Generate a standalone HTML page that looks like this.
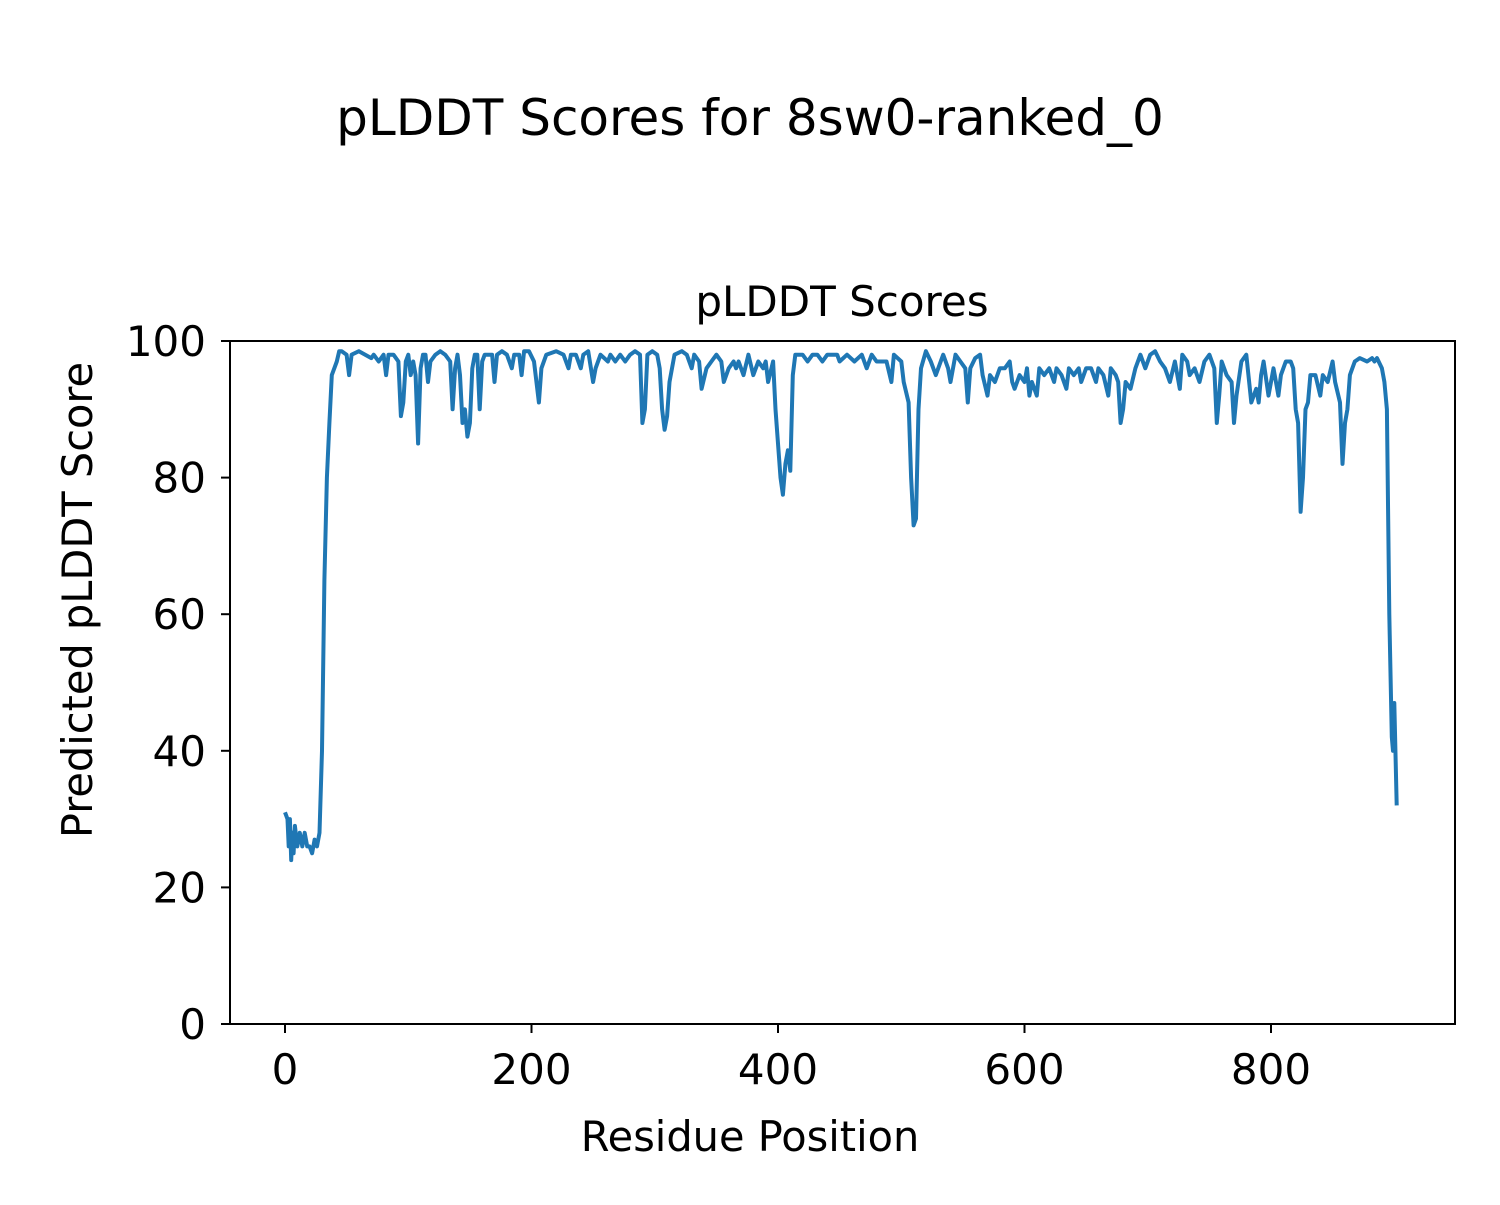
<!DOCTYPE html>
<html><head><meta charset="utf-8"><style>
html,body{margin:0;padding:0;background:#fff;}
svg text{font-family:"DejaVu Sans","Liberation Sans",sans-serif;fill:#000;}
</style></head><body>
<svg id="s" width="1500" height="1200" xmlns="http://www.w3.org/2000/svg">
<rect width="1500" height="1200" fill="#fff"/>
<text x="750" y="135" font-size="50" text-anchor="middle">pLDDT Scores for 8sw0-ranked_0</text>
<text x="842" y="316" font-size="42" text-anchor="middle">pLDDT Scores</text>
<polyline id="ln" fill="none" stroke="#1f77b4" stroke-width="4" stroke-linejoin="round" points=""/>
<rect x="230" y="341" width="1225" height="683" fill="none" stroke="#000" stroke-width="2"/>
<g id="ticks" stroke="#000" stroke-width="2"></g>
<g id="labels" font-size="42"></g>
<text x="750" y="1151" font-size="41.5" text-anchor="middle">Residue Position</text>
<text transform="translate(92,600) rotate(-90)" font-size="41.5" text-anchor="middle">Predicted pLDDT Score</text>
</svg>
<script>
var d=[0,31,2,30,3,26,4,30,5,24,6,28,7,25,8,29,10,26,12,28,14,26,16,28,18,26,20,26,22,25,24,27,26,26,28,28,30,40,32,65,34,80,36,88,38,95,40,96,42,97,44,98.5,46,98.5,50,98,52,95,54,98,60,98.5,70,97.5,72,98,76,97,80,98,82,95,84,98,88,98,92,97,94,89,96,91,98,97,100,98,102,95,104,97,106,95,108,85,110,96,112,98,114,98,116,94,118,97,122,98,126,98.5,130,98,134,97,136,90,138,96,140,98,142,95,144,88,146,90,148,86,150,88,152,96,154,98,156,98,158,90,160,97,162,98,168,98,170,94,172,98,176,98.5,180,98,184,96,186,98,190,98,192,95,194,98.5,198,98.5,202,97,206,91,208,96,212,98,220,98.5,226,98,230,96,232,98,236,98,240,96,242,98,246,98.5,250,94,252,96,256,98,262,97,264,98,268,97,272,98,276,97,280,98,284,98.5,288,98,290,88,292,90,294,98,298,98.5,302,98,304,96,306,90,308,87,310,89,312,94,314,96,316,98,322,98.5,326,98,330,96,332,98,336,97,338,93,342,96,346,97,350,98,354,97,356,94,360,96,364,97,366,96,368,97,372,95,376,98,380,95,384,97,388,96,390,97,392,94,396,97,398,90,400,85,402,80,404,77.5,406,82,408,84,410,81,412,95,414,98,420,98,424,97,428,98,432,98,436,97,440,98,448,98,450,97,456,98,462,97,468,98,472,96,476,98,480,97,488,97,492,94,494,98,500,97,502,94,506,91,508,80,510,73,512,74,514,90,516,96,520,98.5,524,97,528,95,532,97,534,98,538,96,540,94,544,98,548,97,552,96,554,91,556,96,560,97.5,564,98,566,95,570,92,572,95,576,94,580,96,584,96,588,97,590,94,592,93,596,95,600,94,602,96,604,92,606,94,610,92,612,96,616,95,620,96,624,94,626,96,630,95,634,93,636,96,640,95,644,96,646,94,650,96,654,96,658,94,660,96,664,95,668,92,670,96,674,95,676,94,678,88,680,90,682,94,686,93,690,96,694,98,698,96,702,98,706,98.5,710,97,714,96,718,94,722,97,726,93,728,98,732,97,734,95,738,96,742,94,746,97,750,98,754,96,756,88,758,92,760,97,764,95,768,94,770,88,772,92,776,97,780,98,784,91,788,93,790,91,792,95,794,97,798,92,802,96,806,92,808,95,812,97,816,97,818,96,820,90,822,88,824,75,826,80,828,90,830,91,832,95,836,95,840,92,842,95,846,94,850,97,852,94,856,91,858,82,860,88,862,90,864,95,868,97,872,97.5,878,97,882,97.5,884,97,886,97.5,890,96,892,94,894,90,896,60,898,42,899,40,900,47,902,32];
function X(v){return 285+v*1.2325;}function Y(v){return 1024-v*6.83;}
var p=[];for(var i=0;i<d.length;i+=2)p.push(X(d[i]).toFixed(1)+","+Y(d[i+1]).toFixed(1));
document.getElementById("ln").setAttribute("points",p.join(" "));
var ns="http://www.w3.org/2000/svg";
var tg=document.getElementById("ticks"),lg=document.getElementById("labels");
[0,200,400,600,800].forEach(function(v){var x=X(v);
var e=document.createElementNS(ns,"line");e.setAttribute("x1",x);e.setAttribute("x2",x);e.setAttribute("y1",1024);e.setAttribute("y2",1033);tg.appendChild(e);
var s=document.createElementNS(ns,"text");s.setAttribute("x",x);s.setAttribute("y",1084);s.setAttribute("text-anchor","middle");s.textContent=v;lg.appendChild(s);});
[0,20,40,60,80,100].forEach(function(v){var y=Y(v);
var e=document.createElementNS(ns,"line");e.setAttribute("x1",221);e.setAttribute("x2",230);e.setAttribute("y1",y);e.setAttribute("y2",y);tg.appendChild(e);
var s=document.createElementNS(ns,"text");s.setAttribute("x",206);s.setAttribute("y",y+15);s.setAttribute("text-anchor","end");s.textContent=v;lg.appendChild(s);});
</script>
</body></html>
